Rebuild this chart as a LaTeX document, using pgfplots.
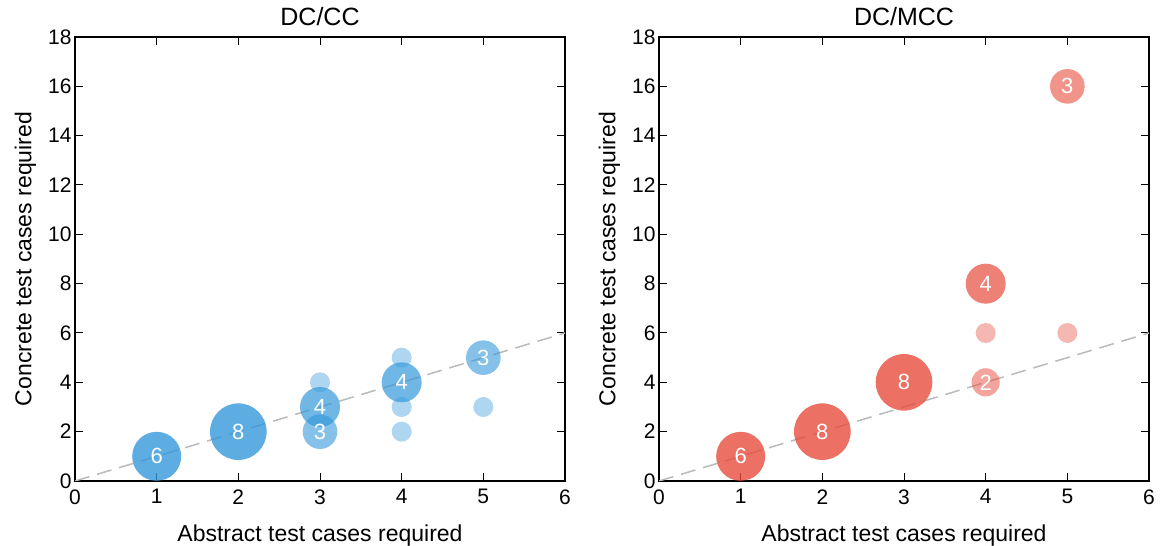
\documentclass[border=0pt]{standalone}
\usepackage{pgfplots}
\pgfplotsset{compat=1.18}
\usepackage{fontspec}
\setmainfont{Liberation Sans}
\definecolor{cblue}{HTML}{3498DB}
\definecolor{cred}{HTML}{E74C3C}
\pgfplotsset{
  myaxis/.style={
    width=490pt, height=444pt, scale only axis,
    xmin=0, xmax=6, ymin=0, ymax=18,
    xtick={0,1,...,6}, ytick={0,2,...,18},
    tick align=inside, tick pos=both,
    major tick length=8pt,
    every tick/.style={black, line width=1pt},
    axis line style={line width=1.2pt},
    tick label style={font=\fontsize{21}{24}\selectfont},
    label style={font=\fontsize{23}{26}\selectfont},
    title style={font=\fontsize{25}{28}\selectfont, yshift=2pt},
    /pgf/number format/assume math mode=true,
    xlabel={Abstract test cases required},
    ylabel={Concrete test cases required},
    xlabel style={yshift=-14pt},
    ylabel style={yshift=5pt},
    xticklabel style={yshift=-5pt},
  },
  bub/.style n args={3}{
    only marks, mark=*, mark size=#2pt,
    mark options={draw opacity=0, fill=#1, fill opacity=#3},
  },
  lbl/.style={
    only marks, mark=none, point meta=explicit symbolic,
    nodes near coords,
    every node near coord/.style={anchor=center, text=white, text opacity=1, font=\fontsize{22}{24}\selectfont},
  },
  diag/.style={black!27, dash pattern=on 15pt off 8pt, line width=1.5pt},
}
\begin{document}
\begin{tikzpicture}
\path[use as bounding box] (0,0) rectangle (1165pt,546pt);
\begin{axis}[myaxis, at={(75pt,65pt)}, anchor=south west, title={DC/CC}]
\addplot[diag] coordinates {(0,0) (6,6)};
% count 1
\addplot[bub={cblue}{10}{0.4}] coordinates {(3,4) (4,2) (4,3) (4,5) (5,3)};
% count 3
\addplot[bub={cblue}{17.3}{0.6}] coordinates {(3,2) (5,5)};
% count 4
\addplot[bub={cblue}{20}{0.7}] coordinates {(3,3) (4,4)};
% count 6
\addplot[bub={cblue}{24.5}{0.8}] coordinates {(1,1)};
% count 8
\addplot[bub={cblue}{28.3}{0.8}] coordinates {(2,2)};
\addplot[lbl] coordinates {(1,1) [6] (2,2) [8] (3,2) [3] (3,3) [4] (4,4) [4] (5,5) [3]};
\end{axis}
\begin{axis}[myaxis, at={(659pt,65pt)}, anchor=south west, title={DC/MCC}]
\addplot[diag] coordinates {(0,0) (6,6)};
% count 1
\addplot[bub={cred}{10}{0.4}] coordinates {(4,6) (5,6)};
% count 2
\addplot[bub={cred}{14.1}{0.5}] coordinates {(4,4)};
% count 3
\addplot[bub={cred}{17.3}{0.6}] coordinates {(5,16)};
% count 4
\addplot[bub={cred}{20}{0.7}] coordinates {(4,8)};
% count 6
\addplot[bub={cred}{24.5}{0.8}] coordinates {(1,1)};
% count 8
\addplot[bub={cred}{28.3}{0.8}] coordinates {(2,2) (3,4)};
\addplot[lbl] coordinates {(1,1) [6] (2,2) [8] (3,4) [8] (4,4) [2] (4,8) [4] (5,16) [3]};
\end{axis}
\end{tikzpicture}
\end{document}
